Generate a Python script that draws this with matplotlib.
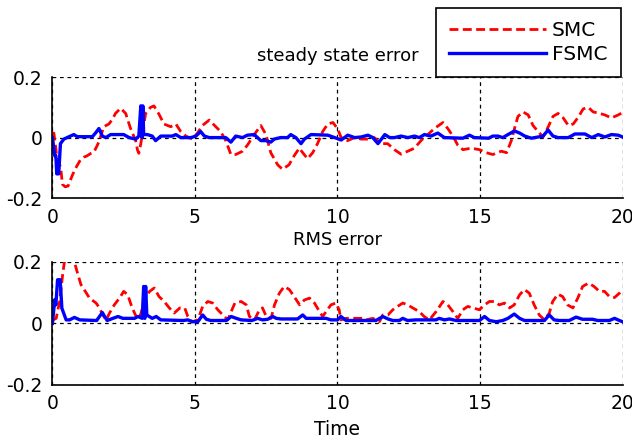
import matplotlib
matplotlib.use("Agg")
import matplotlib.pyplot as plt

plt.rcParams["font.family"] = ["DejaVu Sans"]

# --- data ---
series_names = ["SMC", "FSMC"]
panel_titles = ["steady state error", "RMS error"]
x_label = "Time"
x_ticks = [0, 5, 10, 15, 20]
y_ticks = [-0.2, 0, 0.2]
y_tick_labels = ["-0.2", "0", "0.2"]

sse_smc_t = [0, 0.05, 0.15, 0.29, 0.35, 0.45, 0.55, 0.7, 0.85, 0.98, 1.1, 1.22, 1.35, 1.46,
             1.55, 1.63, 1.8, 1.98, 2.1, 2.21, 2.39, 2.57, 2.74, 2.92, 2.98, 3.03, 3.1, 3.15,
             3.27, 3.44, 3.56, 3.74, 3.91, 4.15, 4.33, 4.5, 4.68, 4.91, 5.09, 5.26, 5.5, 5.73,
             5.9, 6.08, 6.26, 6.43, 6.67, 6.84, 7.08, 7.31, 7.49, 7.66, 7.9, 8.07, 8.3, 8.48,
             8.66, 8.78, 8.95, 9.13, 9.3, 9.48, 9.66, 9.84, 10.0, 10.13, 10.36, 10.6, 10.83,
             11.07, 11.29, 11.53, 11.76, 12.0, 12.23, 12.47, 12.7, 12.93, 13.17, 13.4, 13.7,
             13.87, 14.05, 14.22, 14.4, 14.69, 14.98, 15.22, 15.45, 15.75, 15.93, 16.1, 16.21,
             16.33, 16.51, 16.69, 16.86, 17.04, 17.21, 17.39, 17.56, 17.74, 17.92, 18.1, 18.27,
             18.45, 18.62, 18.8, 18.97, 19.2, 19.38, 19.61, 19.85, 20.0]
sse_smc = [0.015, 0.015, -0.06, -0.10, -0.155, -0.163, -0.16, -0.124, -0.095, -0.074, -0.065,
           -0.06, -0.052, -0.047, -0.03, -0.014, 0.036, 0.045, 0.06, 0.08, 0.097, 0.08, 0.03,
           -0.01, -0.04, -0.052, -0.02, 0.01, 0.08, 0.10, 0.105, 0.077, 0.045, 0.036, 0.045,
           0.02, 0.005, -0.005, 0.015, 0.04, 0.058, 0.036, 0.02, -0.01, -0.056, -0.056, -0.045,
           -0.025, 0.01, 0.04, 0.01, -0.05, -0.09, -0.105, -0.09, -0.06, -0.035, -0.05, -0.07,
           -0.05, -0.02, 0.02, 0.045, 0.05, 0.03, 0.0, -0.01, 0.0, -0.005, -0.005, 0.0, -0.02,
           -0.02, -0.04, -0.055, -0.045, -0.035, -0.01, 0.01, 0.03, 0.05, 0.03, 0.005, -0.025,
           -0.04, -0.035, -0.04, -0.05, -0.056, -0.045, -0.05, -0.01, 0.03, 0.07, 0.085, 0.075,
           0.04, 0.02, 0.002, 0.035, 0.07, 0.08, 0.065, 0.04, 0.045, 0.068, 0.095, 0.1, 0.085,
           0.08, 0.075, 0.065, 0.075, 0.083]

sse_fsmc_t = [0, 0.08, 0.12, 0.15, 0.22, 0.28, 0.4, 0.63, 0.75, 0.87, 1.4, 1.51, 1.63, 1.75,
              1.87, 2.04, 2.5, 2.69, 2.92, 3.03, 3.1, 3.14, 3.17, 3.2, 3.33, 3.5, 3.62, 3.8,
              4.2, 4.33, 4.5, 4.86, 5.03, 5.2, 5.33, 5.5, 6.08, 6.26, 6.43, 6.67, 6.84, 7.08,
              7.31, 7.49, 7.66, 7.78, 8.0, 8.25, 8.36, 8.54, 8.72, 8.84, 9.07, 9.66, 9.9, 10.13,
              10.36, 10.6, 10.83, 11.07, 11.24, 11.42, 11.66, 11.83, 12.0, 12.23, 12.47, 12.7,
              12.87, 13.05, 13.28, 13.52, 13.75, 14.4, 14.63, 14.8, 15.3, 15.45, 15.63, 15.8,
              15.98, 16.21, 16.39, 16.57, 16.8, 17.04, 17.21, 17.39, 17.56, 17.74, 18.1, 18.33,
              18.68, 18.92, 19.15, 19.38, 19.61, 19.85, 20.0]
sse_fsmc = [0, -0.06, -0.06, -0.12, -0.12, -0.02, -0.005, 0.005, 0.01, 0.003, 0.003, 0.015,
            0.03, 0.005, 0, 0.01, 0.01, 0.0, -0.005, 0.005, 0.105, 0.0, 0.105, 0.01, 0.01,
            0.005, -0.01, 0.005, 0.005, 0.01, 0, 0, 0.005, 0.02, 0.005, 0, 0, -0.015, 0.005, 0,
            0.008, 0.01, -0.01, -0.01, -0.015, -0.005, 0, 0, 0.01, 0, -0.02, -0.005, 0.01,
            0.008, 0, -0.008, 0.008, 0, 0.002, 0.008, 0, -0.02, 0.01, 0, 0, 0.005, 0, 0.005, 0,
            0.01, 0.005, 0.015, 0, -0.002, 0.008, 0, -0.002, 0.005, 0.005, 0, 0.01, 0.022,
            0.015, 0.005, -0.002, 0.002, 0.005, 0.025, 0.005, 0, 0, 0.012, 0.012, 0, 0.01,
            0.002, 0.01, 0.008, 0.002]

rms_smc_t = [0, 0.13, 0.25, 0.36, 0.42, 0.5, 0.7, 0.77, 0.89, 1.0, 1.18, 1.3, 1.53, 1.65,
             1.77, 1.88, 2.0, 2.17, 2.35, 2.5, 2.64, 2.76, 2.88, 3.0, 3.11, 3.22, 3.41, 3.57,
             3.74, 3.92, 4.1, 4.27, 4.47, 4.64, 4.75, 4.9, 5.1, 5.27, 5.45, 5.62, 5.8, 5.98,
             6.15, 6.27, 6.4, 6.62, 6.8, 6.91, 7.09, 7.26, 7.37, 7.5, 7.67, 7.79, 7.96, 8.13,
             8.31, 8.48, 8.67, 8.84, 9.02, 9.19, 9.37, 9.48, 9.6, 9.77, 9.94, 10.06, 10.12,
             10.3, 10.9, 11.0, 11.24, 11.47, 11.59, 11.77, 11.94, 12.11, 12.29, 12.46, 12.64,
             12.87, 13.04, 13.22, 13.46, 13.7, 13.87, 14.05, 14.22, 14.4, 14.57, 14.75, 14.98,
             15.16, 15.33, 15.51, 15.68, 15.86, 16.04, 16.2, 16.39, 16.56, 16.73, 16.9, 17.08,
             17.26, 17.43, 17.55, 17.73, 17.9, 18.07, 18.26, 18.43, 18.6, 18.81, 19.0, 19.19,
             19.37, 19.54, 19.72, 19.89, 20.0]
rms_smc = [0.01, 0.016, 0.07, 0.16, 0.2, 0.215, 0.215, 0.2, 0.16, 0.126, 0.1, 0.082, 0.066,
           0.05, 0.027, 0.01, 0.033, 0.06, 0.082, 0.104, 0.093, 0.06, 0.033, 0.011, 0.033,
           0.082, 0.104, 0.115, 0.087, 0.071, 0.05, 0.033, 0.05, 0.05, 0.022, 0.005, 0.011,
           0.055, 0.071, 0.066, 0.044, 0.027, 0.011, 0.038, 0.066, 0.071, 0.06, 0.022, 0.011,
           0.044, 0.05, 0.022, 0.016, 0.06, 0.098, 0.12, 0.11, 0.087, 0.06, 0.076, 0.082,
           0.066, 0.038, 0.022, 0.038, 0.06, 0.066, 0.044, 0.011, 0.016, 0.016, 0.011, 0.016,
           0.005, 0.027, 0.027, 0.044, 0.055, 0.066, 0.06, 0.05, 0.038, 0.022, 0.011, 0.038,
           0.071, 0.06, 0.038, 0.016, 0.044, 0.055, 0.05, 0.044, 0.06, 0.071, 0.071, 0.06,
           0.066, 0.05, 0.06, 0.093, 0.11, 0.098, 0.06, 0.027, 0.011, 0.033, 0.071, 0.095,
           0.087, 0.06, 0.05, 0.082, 0.12, 0.131, 0.12, 0.104, 0.104, 0.087, 0.084, 0.098, 0.11]

rms_fsmc_t = [0, 0.08, 0.12, 0.18, 0.27, 0.33, 0.48, 0.6, 0.77, 0.96, 1.55, 1.65, 1.75, 1.83,
              1.92, 2.12, 2.3, 2.47, 2.88, 3.0, 3.15, 3.2, 3.24, 3.27, 3.31, 3.5, 3.64, 3.8,
              4.6, 4.75, 4.9, 5.1, 5.27, 5.4, 5.55, 6.1, 6.27, 6.45, 6.62, 7.0, 7.2, 7.37, 7.55,
              7.73, 7.85, 8.02, 8.6, 8.78, 8.9, 9.6, 9.77, 10.0, 10.12, 10.3, 11.35, 11.59,
              11.77, 11.94, 12.17, 12.29, 12.46, 12.75, 13.45, 13.57, 13.75, 13.93, 14.16,
              14.98, 15.16, 15.33, 15.57, 15.8, 15.98, 16.2, 16.39, 16.56, 17.26, 17.43, 17.6,
              17.78, 18.13, 18.37, 18.6, 18.95, 19.13, 19.54, 19.72, 19.89, 20.0]
rms_fsmc = [0, 0.077, 0.06, 0.142, 0.142, 0.049, 0.011, 0.011, 0.019, 0.011, 0.009, 0.022,
            0.035, 0.022, 0.009, 0.016, 0.022, 0.016, 0.016, 0.022, 0.016, 0.12, 0.016, 0.12,
            0.027, 0.016, 0.022, 0.011, 0.009, 0.011, 0.005, 0.005, 0.027, 0.013, 0.009, 0.009,
            0.022, 0.016, 0.011, 0.009, 0.016, 0.011, 0.013, 0.022, 0.016, 0.014, 0.014, 0.027,
            0.016, 0.016, 0.011, 0.011, 0.022, 0.009, 0.009, 0.022, 0.014, 0.009, 0.009, 0.016,
            0.009, 0.011, 0.011, 0.016, 0.011, 0.014, 0.009, 0.009, 0.022, 0.009, 0.005, 0.009,
            0.016, 0.03, 0.016, 0.009, 0.009, 0.027, 0.011, 0.009, 0.009, 0.02, 0.013, 0.013,
            0.009, 0.009, 0.016, 0.009, 0.005]

FS = 13.5
fig = plt.figure(figsize=(6.32, 4.41), dpi=100)
ax_top = fig.add_axes([0.083, 0.551, 0.902, 0.274])
ax_bot = fig.add_axes([0.083, 0.128, 0.902, 0.278])

panels = [
    (ax_top, sse_smc_t, sse_smc, sse_fsmc_t, sse_fsmc),
    (ax_bot, rms_smc_t, rms_smc, rms_fsmc_t, rms_fsmc),
]
handles = []
for i, (ax, t1, y1, t2, y2) in enumerate(panels):
    h1, = ax.plot(t1, y1, color="#ff0000", lw=2.0, dashes=(3.2, 1.6), label=series_names[0])
    h2, = ax.plot(t2, y2, color="#0000ff", lw=2.4, label=series_names[1])
    if i == 0:
        handles = [h1, h2]
    ax.set_xlim(0, 20)
    ax.set_ylim(-0.2, 0.2)
    ax.set_xticks(x_ticks)
    ax.set_yticks(y_ticks)
    ax.set_yticklabels(y_tick_labels)
    ax.grid(True, color="black", lw=0.9, dashes=(3, 3))
    ax.set_axisbelow(True)
    ax.spines["top"].set_visible(False)
    ax.spines["right"].set_visible(False)
    ax.spines["left"].set_linewidth(1.2)
    ax.spines["bottom"].set_linewidth(1.2)
    ax.tick_params(length=0, labelsize=FS, pad=7)
    ax.set_title(panel_titles[i], fontsize=13, pad=12)

ax_bot.set_xlabel(x_label, fontsize=FS, labelpad=5)

leg = fig.legend(handles, series_names, loc="upper right", bbox_to_anchor=(0.982, 0.982),
                 fontsize=14.5, frameon=True, fancybox=False, handlelength=4.8,
                 handletextpad=0.3, labelspacing=0.25, borderpad=0.65, borderaxespad=0)
leg.get_frame().set_edgecolor("black")
leg.get_frame().set_linewidth(1.2)
leg.get_frame().set_alpha(1)

fig.savefig("out.png", dpi=100)
